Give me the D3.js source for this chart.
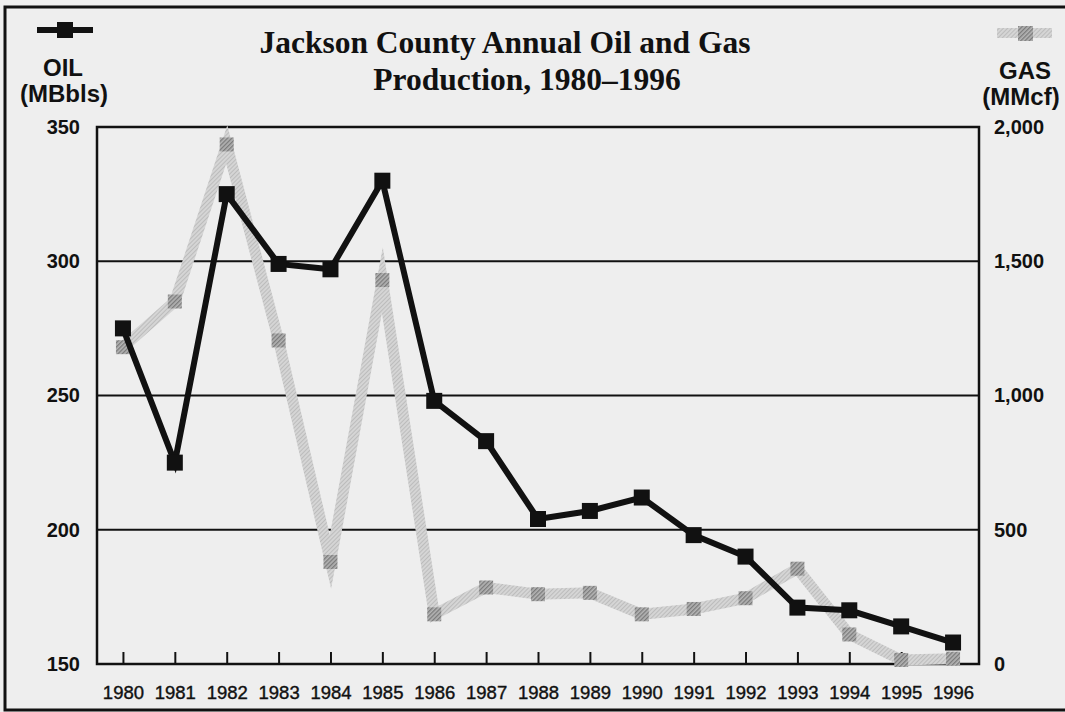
<!DOCTYPE html>
<html>
<head>
<meta charset="utf-8">
<script src="https://cdn.jsdelivr.net/npm/d3@7"></script>
<style>
  body { margin: 0; background: #eeeeee; }
  svg { display: block; }
  .ylab { font-family: "Liberation Sans", Arial, sans-serif; font-weight: bold; font-size: 20px; fill: #111; }
  .xlab { font-family: "Liberation Sans", Arial, sans-serif; font-size: 18.5px; fill: #111; stroke: #111; stroke-width: 0.4px; }
  .unit { font-family: "Liberation Sans", Arial, sans-serif; font-weight: bold; font-size: 24px; fill: #111; }
  .title { font-family: "Liberation Serif", "Times New Roman", serif; font-weight: bold; font-size: 31.5px; fill: #111; }
</style>
</head>
<body>
<div class="chart"></div>
<script>
// data
const years = [1980, 1981, 1982, 1983, 1984, 1985, 1986, 1987, 1988, 1989, 1990, 1991, 1992, 1993, 1994, 1995, 1996];
const oil = [275, 225, 325, 299, 297, 330, 248, 233, 204, 207, 212, 198, 190, 171, 170, 164, 158];
const gas = [1180, 1350, 1935, 1205, 380, 1430, 185, 285, 260, 265, 185, 205, 245, 355, 110, 15, 20];
const oilTicks = [150, 200, 250, 300, 350];
const gasTicks = [0, 500, 1000, 1500, 2000];
const titleLines = ["Jackson County Annual Oil and Gas", "Production, 1980\u20131996"];

const W = 1065, H = 712;
const box = { left: 97, right: 979, top: 127, bottom: 664 };

const svg = d3.select(".chart").append("svg")
    .attr("width", W)
    .attr("height", H);

// hatch patterns for the gas series
const defs = svg.append("defs");
defs.append("pattern")
    .attr("id", "hatchLine")
    .attr("patternUnits", "userSpaceOnUse")
    .attr("width", 3).attr("height", 3)
    .attr("patternTransform", "rotate(45)")
    .call(p => {
        p.append("rect").attr("width", 3).attr("height", 3).attr("fill", "#d5d5d5");
        p.append("rect").attr("width", 1).attr("height", 3).attr("fill", "#bcbcbc");
    });
defs.append("pattern")
    .attr("id", "hatchMark")
    .attr("patternUnits", "userSpaceOnUse")
    .attr("width", 3).attr("height", 3)
    .attr("patternTransform", "rotate(45)")
    .call(p => {
        p.append("rect").attr("width", 3).attr("height", 3).attr("fill", "#b4b4b4");
        p.append("rect").attr("width", 1.3).attr("height", 3).attr("fill", "#7a7a7a");
    });

// outer frame
svg.append("rect")
    .attr("x", 5).attr("y", 7)
    .attr("width", W + 10).attr("height", 703)
    .attr("fill", "none")
    .attr("stroke", "#111")
    .attr("stroke-width", 3);

// scales
const x = d3.scaleLinear()
    .domain([1979.5, 1996.5])
    .range([box.left, box.right]);
const yOil = d3.scaleLinear()
    .domain([150, 350])
    .range([box.bottom, box.top]);
const yGas = d3.scaleLinear()
    .domain([0, 2000])
    .range([box.bottom, box.top]);

// gridlines
svg.append("g")
    .selectAll("line")
    .data(oilTicks.slice(1, -1))
    .join("line")
    .attr("x1", box.left).attr("x2", box.right)
    .attr("y1", d => yOil(d)).attr("y2", d => yOil(d))
    .attr("stroke", "#111")
    .attr("stroke-width", 2);

// plot box
svg.append("rect")
    .attr("x", box.left).attr("y", box.top)
    .attr("width", box.right - box.left)
    .attr("height", box.bottom - box.top)
    .attr("fill", "none")
    .attr("stroke", "#111")
    .attr("stroke-width", 2.5);

// axes
const xAxis = d3.axisBottom(x)
    .tickValues(years)
    .tickFormat(d3.format("d"))
    .tickSizeInner(-12)
    .tickSizeOuter(0)
    .tickPadding(22);
svg.append("g")
    .attr("transform", `translate(0,${box.bottom})`)
    .call(xAxis)
    .call(g => g.select(".domain").remove())
    .call(g => g.selectAll(".tick line").attr("stroke", "#111").attr("stroke-width", 2))
    .call(g => g.selectAll("text").attr("class", "xlab").attr("font-size", null).attr("font-family", null));

svg.append("g")
    .attr("transform", `translate(${box.left},0)`)
    .call(d3.axisLeft(yOil).tickValues(oilTicks).tickSize(0).tickPadding(17))
    .call(g => g.select(".domain").remove())
    .call(g => g.selectAll("text").attr("class", "ylab").attr("font-size", null).attr("font-family", null));

svg.append("g")
    .attr("transform", `translate(${box.right},0)`)
    .call(d3.axisRight(yGas).tickValues(gasTicks).tickFormat(d3.format(",")).tickSize(0).tickPadding(15))
    .call(g => g.select(".domain").remove())
    .call(g => g.selectAll("text").attr("class", "ylab").attr("font-size", null).attr("font-family", null));

// gas series
const gasData = years.map((yr, i) => ({ yr, v: gas[i] }));
const oilData = years.map((yr, i) => ({ yr, v: oil[i] }));

svg.append("path")
    .datum(gasData)
    .attr("d", d3.line().x(d => x(d.yr)).y(d => yGas(d.v)))
    .attr("fill", "none")
    .attr("stroke", "url(#hatchLine)")
    .attr("stroke-width", 11)
    .attr("stroke-linejoin", "miter")
    .attr("stroke-miterlimit", 10);

svg.append("g")
    .selectAll("rect")
    .data(gasData)
    .join("rect")
    .attr("x", d => x(d.yr) - 7)
    .attr("y", d => yGas(d.v) - 7)
    .attr("width", 14).attr("height", 14)
    .attr("fill", "url(#hatchMark)");

// oil series
svg.append("path")
    .datum(oilData)
    .attr("d", d3.line().x(d => x(d.yr)).y(d => yOil(d.v)))
    .attr("fill", "none")
    .attr("stroke", "#111")
    .attr("stroke-width", 6)
    .attr("stroke-linejoin", "miter");

svg.append("g")
    .selectAll("rect")
    .data(oilData)
    .join("rect")
    .attr("x", d => x(d.yr) - 8)
    .attr("y", d => yOil(d.v) - 8)
    .attr("width", 16).attr("height", 16)
    .attr("fill", "#111");

// legend keys and unit labels
svg.append("line")
    .attr("x1", 37).attr("x2", 93).attr("y1", 30).attr("y2", 30)
    .attr("stroke", "#111").attr("stroke-width", 6);
svg.append("rect")
    .attr("x", 57).attr("y", 22).attr("width", 16).attr("height", 16)
    .attr("fill", "#111");
svg.append("line")
    .attr("x1", 997).attr("x2", 1052).attr("y1", 33).attr("y2", 33)
    .attr("stroke", "url(#hatchLine)").attr("stroke-width", 10);
svg.append("rect")
    .attr("x", 1018).attr("y", 26).attr("width", 15).attr("height", 15)
    .attr("fill", "url(#hatchMark)");

svg.append("text").attr("class", "unit").attr("text-anchor", "middle")
    .attr("x", 63).attr("y", 76).text("OIL");
svg.append("text").attr("class", "unit").attr("text-anchor", "middle")
    .attr("x", 64).attr("y", 102).text("(MBbls)");
svg.append("text").attr("class", "unit").attr("text-anchor", "middle")
    .attr("x", 1025).attr("y", 79).text("GAS");
svg.append("text").attr("class", "unit").attr("text-anchor", "middle")
    .attr("x", 1021).attr("y", 105).text("(MMcf)");

// title
svg.append("text").attr("class", "title").attr("text-anchor", "middle")
    .attr("x", 505).attr("y", 53).text(titleLines[0]);
svg.append("text").attr("class", "title").attr("text-anchor", "middle")
    .attr("x", 527).attr("y", 90).text(titleLines[1]);
</script>
</body>
</html>
